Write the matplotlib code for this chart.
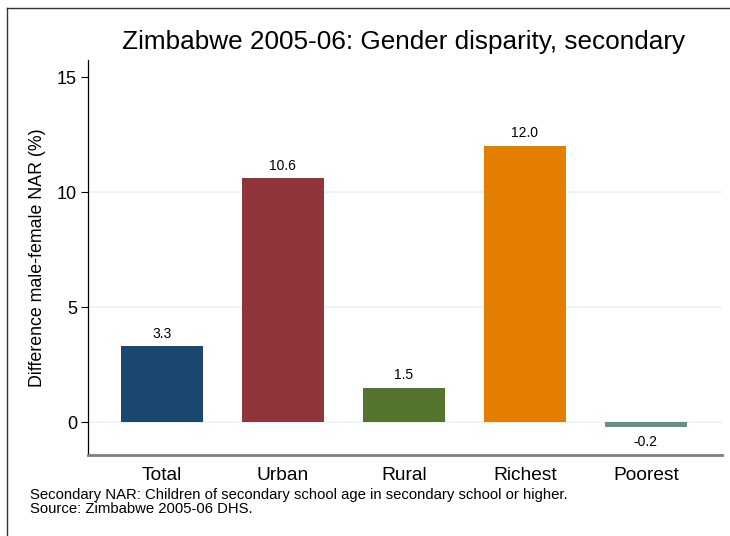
import matplotlib
matplotlib.use("Agg")
import matplotlib.pyplot as plt
from matplotlib.lines import Line2D

plt.rcParams['font.family'] = ['Liberation Sans', 'DejaVu Sans']

categories = ["Total", "Urban", "Rural", "Richest", "Poorest"]
values = [3.3, 10.6, 1.5, 12.0, -0.2]
colors = ["#1a476f", "#90353b", "#55752f", "#e37e00", "#6e8e84"]
yticks = [0, 5, 10, 15]
gridlines = [0, 5, 10]

fig = plt.figure(figsize=(7.3, 5.36), dpi=100)
W, H = 730, 536
ax = fig.add_axes([88 / W, 1 - 455 / H, (722 - 88) / W, (455 - 60) / H])

x = list(range(len(categories)))
for g in gridlines:
    ax.axhline(g, color="#eaf2f3", linewidth=1.2, zorder=0)
ax.bar(x, values, width=0.68, color=colors, zorder=3)
for xi, v in zip(x, values):
    if v >= 0:
        ax.annotate(f"{v:.1f}", (xi, v), xytext=(0, 4), textcoords="offset points",
                    ha="center", va="bottom", fontsize=10)
    else:
        ax.annotate(f"{v:.1f}", (xi, v), xytext=(0, -6), textcoords="offset points",
                    ha="center", va="top", fontsize=10)

ax.set_xlim(-0.61, 4.63)
ax.set_ylim(-1.43, 15.74)
ax.set_yticks(yticks)
ax.set_yticklabels([str(t) for t in yticks], fontsize=13)
ax.set_xticks(x)
ax.set_xticklabels(categories, fontsize=13.8)
ax.tick_params(axis='x', length=0, pad=9)
ax.tick_params(axis='y', length=5, width=0.8, pad=3)
for s in ["top", "right"]:
    ax.spines[s].set_visible(False)
ax.spines["left"].set_linewidth(0.9)
ax.spines["left"].set_color("black")
ax.spines["bottom"].set_linewidth(2)
ax.spines["bottom"].set_color("#7f7f7f")
ax.set_ylabel("Difference male-female NAR (%)", fontsize=12.8, labelpad=8)

fig.text(404 / W, 1 - 42 / H, "Zimbabwe 2005-06: Gender disparity, secondary",
         ha="center", va="center", fontsize=18.8)
fig.text(30 / W, 1 - 488 / H,
         "Secondary NAR: Children of secondary school age in secondary school or higher.\nSource: Zimbabwe 2005-06 DHS.",
         ha="left", va="top", fontsize=10.7, linespacing=1.0)

# outer frame (left and top)
fig.add_artist(Line2D([7 / W, 7 / W], [0, 1 - 8 / H], color="#333333", linewidth=1, transform=fig.transFigure))
fig.add_artist(Line2D([7 / W, 1], [1 - 8 / H, 1 - 8 / H], color="#333333", linewidth=1, transform=fig.transFigure))

fig.savefig("out.png", dpi=100)
